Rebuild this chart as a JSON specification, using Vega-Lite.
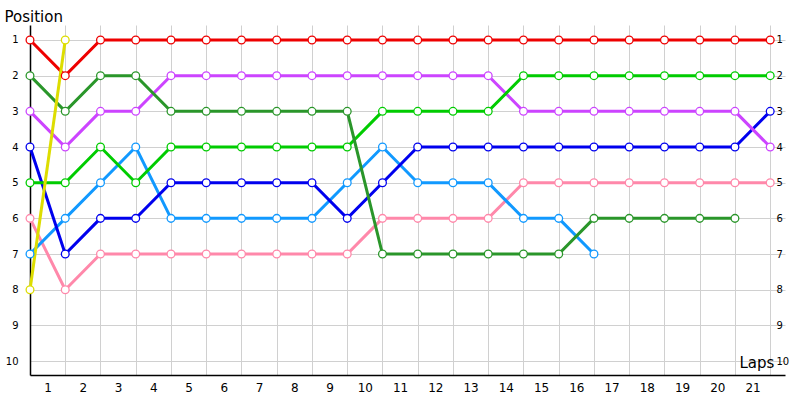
{
  "$schema": "https://vega.github.io/schema/vega-lite/v6.json",
  "width": 755,
  "height": 350,
  "autosize": {"type": "none"},
  "padding": {"left": 30, "top": 25, "right": 15, "bottom": 25},
  "background": "white",
  "config": {"view": {"stroke": null}, "font": "DejaVu Sans"},
  "data": {
    "values": [
      {"driver": "Pink", "lap": 0, "pos": 6}, {"driver": "Pink", "lap": 1, "pos": 8}, {"driver": "Pink", "lap": 2, "pos": 7},
      {"driver": "Pink", "lap": 3, "pos": 7}, {"driver": "Pink", "lap": 4, "pos": 7}, {"driver": "Pink", "lap": 5, "pos": 7},
      {"driver": "Pink", "lap": 6, "pos": 7}, {"driver": "Pink", "lap": 7, "pos": 7}, {"driver": "Pink", "lap": 8, "pos": 7},
      {"driver": "Pink", "lap": 9, "pos": 7}, {"driver": "Pink", "lap": 10, "pos": 6}, {"driver": "Pink", "lap": 11, "pos": 6},
      {"driver": "Pink", "lap": 12, "pos": 6}, {"driver": "Pink", "lap": 13, "pos": 6}, {"driver": "Pink", "lap": 14, "pos": 5},
      {"driver": "Pink", "lap": 15, "pos": 5}, {"driver": "Pink", "lap": 16, "pos": 5}, {"driver": "Pink", "lap": 17, "pos": 5},
      {"driver": "Pink", "lap": 18, "pos": 5}, {"driver": "Pink", "lap": 19, "pos": 5}, {"driver": "Pink", "lap": 20, "pos": 5},
      {"driver": "Pink", "lap": 21, "pos": 5},

      {"driver": "LightBlue", "lap": 0, "pos": 7}, {"driver": "LightBlue", "lap": 1, "pos": 6}, {"driver": "LightBlue", "lap": 2, "pos": 5},
      {"driver": "LightBlue", "lap": 3, "pos": 4}, {"driver": "LightBlue", "lap": 4, "pos": 6}, {"driver": "LightBlue", "lap": 5, "pos": 6},
      {"driver": "LightBlue", "lap": 6, "pos": 6}, {"driver": "LightBlue", "lap": 7, "pos": 6}, {"driver": "LightBlue", "lap": 8, "pos": 6},
      {"driver": "LightBlue", "lap": 9, "pos": 5}, {"driver": "LightBlue", "lap": 10, "pos": 4}, {"driver": "LightBlue", "lap": 11, "pos": 5},
      {"driver": "LightBlue", "lap": 12, "pos": 5}, {"driver": "LightBlue", "lap": 13, "pos": 5}, {"driver": "LightBlue", "lap": 14, "pos": 6},
      {"driver": "LightBlue", "lap": 15, "pos": 6}, {"driver": "LightBlue", "lap": 16, "pos": 7},

      {"driver": "Blue", "lap": 0, "pos": 4}, {"driver": "Blue", "lap": 1, "pos": 7}, {"driver": "Blue", "lap": 2, "pos": 6},
      {"driver": "Blue", "lap": 3, "pos": 6}, {"driver": "Blue", "lap": 4, "pos": 5}, {"driver": "Blue", "lap": 5, "pos": 5},
      {"driver": "Blue", "lap": 6, "pos": 5}, {"driver": "Blue", "lap": 7, "pos": 5}, {"driver": "Blue", "lap": 8, "pos": 5},
      {"driver": "Blue", "lap": 9, "pos": 6}, {"driver": "Blue", "lap": 10, "pos": 5}, {"driver": "Blue", "lap": 11, "pos": 4},
      {"driver": "Blue", "lap": 12, "pos": 4}, {"driver": "Blue", "lap": 13, "pos": 4}, {"driver": "Blue", "lap": 14, "pos": 4},
      {"driver": "Blue", "lap": 15, "pos": 4}, {"driver": "Blue", "lap": 16, "pos": 4}, {"driver": "Blue", "lap": 17, "pos": 4},
      {"driver": "Blue", "lap": 18, "pos": 4}, {"driver": "Blue", "lap": 19, "pos": 4}, {"driver": "Blue", "lap": 20, "pos": 4},
      {"driver": "Blue", "lap": 21, "pos": 3},

      {"driver": "Purple", "lap": 0, "pos": 3}, {"driver": "Purple", "lap": 1, "pos": 4}, {"driver": "Purple", "lap": 2, "pos": 3},
      {"driver": "Purple", "lap": 3, "pos": 3}, {"driver": "Purple", "lap": 4, "pos": 2}, {"driver": "Purple", "lap": 5, "pos": 2},
      {"driver": "Purple", "lap": 6, "pos": 2}, {"driver": "Purple", "lap": 7, "pos": 2}, {"driver": "Purple", "lap": 8, "pos": 2},
      {"driver": "Purple", "lap": 9, "pos": 2}, {"driver": "Purple", "lap": 10, "pos": 2}, {"driver": "Purple", "lap": 11, "pos": 2},
      {"driver": "Purple", "lap": 12, "pos": 2}, {"driver": "Purple", "lap": 13, "pos": 2}, {"driver": "Purple", "lap": 14, "pos": 3},
      {"driver": "Purple", "lap": 15, "pos": 3}, {"driver": "Purple", "lap": 16, "pos": 3}, {"driver": "Purple", "lap": 17, "pos": 3},
      {"driver": "Purple", "lap": 18, "pos": 3}, {"driver": "Purple", "lap": 19, "pos": 3}, {"driver": "Purple", "lap": 20, "pos": 3},
      {"driver": "Purple", "lap": 21, "pos": 4},

      {"driver": "LightGreen", "lap": 0, "pos": 5}, {"driver": "LightGreen", "lap": 1, "pos": 5}, {"driver": "LightGreen", "lap": 2, "pos": 4},
      {"driver": "LightGreen", "lap": 3, "pos": 5}, {"driver": "LightGreen", "lap": 4, "pos": 4}, {"driver": "LightGreen", "lap": 5, "pos": 4},
      {"driver": "LightGreen", "lap": 6, "pos": 4}, {"driver": "LightGreen", "lap": 7, "pos": 4}, {"driver": "LightGreen", "lap": 8, "pos": 4},
      {"driver": "LightGreen", "lap": 9, "pos": 4}, {"driver": "LightGreen", "lap": 10, "pos": 3}, {"driver": "LightGreen", "lap": 11, "pos": 3},
      {"driver": "LightGreen", "lap": 12, "pos": 3}, {"driver": "LightGreen", "lap": 13, "pos": 3}, {"driver": "LightGreen", "lap": 14, "pos": 2},
      {"driver": "LightGreen", "lap": 15, "pos": 2}, {"driver": "LightGreen", "lap": 16, "pos": 2}, {"driver": "LightGreen", "lap": 17, "pos": 2},
      {"driver": "LightGreen", "lap": 18, "pos": 2}, {"driver": "LightGreen", "lap": 19, "pos": 2}, {"driver": "LightGreen", "lap": 20, "pos": 2},
      {"driver": "LightGreen", "lap": 21, "pos": 2},

      {"driver": "DarkGreen", "lap": 0, "pos": 2}, {"driver": "DarkGreen", "lap": 1, "pos": 3}, {"driver": "DarkGreen", "lap": 2, "pos": 2},
      {"driver": "DarkGreen", "lap": 3, "pos": 2}, {"driver": "DarkGreen", "lap": 4, "pos": 3}, {"driver": "DarkGreen", "lap": 5, "pos": 3},
      {"driver": "DarkGreen", "lap": 6, "pos": 3}, {"driver": "DarkGreen", "lap": 7, "pos": 3}, {"driver": "DarkGreen", "lap": 8, "pos": 3},
      {"driver": "DarkGreen", "lap": 9, "pos": 3}, {"driver": "DarkGreen", "lap": 10, "pos": 7}, {"driver": "DarkGreen", "lap": 11, "pos": 7},
      {"driver": "DarkGreen", "lap": 12, "pos": 7}, {"driver": "DarkGreen", "lap": 13, "pos": 7}, {"driver": "DarkGreen", "lap": 14, "pos": 7},
      {"driver": "DarkGreen", "lap": 15, "pos": 7}, {"driver": "DarkGreen", "lap": 16, "pos": 6}, {"driver": "DarkGreen", "lap": 17, "pos": 6},
      {"driver": "DarkGreen", "lap": 18, "pos": 6}, {"driver": "DarkGreen", "lap": 19, "pos": 6}, {"driver": "DarkGreen", "lap": 20, "pos": 6},

      {"driver": "Red", "lap": 0, "pos": 1}, {"driver": "Red", "lap": 1, "pos": 2}, {"driver": "Red", "lap": 2, "pos": 1},
      {"driver": "Red", "lap": 3, "pos": 1}, {"driver": "Red", "lap": 4, "pos": 1}, {"driver": "Red", "lap": 5, "pos": 1},
      {"driver": "Red", "lap": 6, "pos": 1}, {"driver": "Red", "lap": 7, "pos": 1}, {"driver": "Red", "lap": 8, "pos": 1},
      {"driver": "Red", "lap": 9, "pos": 1}, {"driver": "Red", "lap": 10, "pos": 1}, {"driver": "Red", "lap": 11, "pos": 1},
      {"driver": "Red", "lap": 12, "pos": 1}, {"driver": "Red", "lap": 13, "pos": 1}, {"driver": "Red", "lap": 14, "pos": 1},
      {"driver": "Red", "lap": 15, "pos": 1}, {"driver": "Red", "lap": 16, "pos": 1}, {"driver": "Red", "lap": 17, "pos": 1},
      {"driver": "Red", "lap": 18, "pos": 1}, {"driver": "Red", "lap": 19, "pos": 1}, {"driver": "Red", "lap": 20, "pos": 1},
      {"driver": "Red", "lap": 21, "pos": 1},

      {"driver": "Yellow", "lap": 0, "pos": 8}, {"driver": "Yellow", "lap": 1, "pos": 1}
    ]
  },
  "encoding": {
    "x": {
      "field": "lap",
      "type": "quantitative",
      "scale": {"domain": [0, 21.42], "nice": false, "zero": false},
      "axis": {
        "values": [1, 2, 3, 4, 5, 6, 7, 8, 9, 10, 11, 12, 13, 14, 15, 16, 17, 18, 19, 20, 21],
        "grid": true,
        "gridColor": "#d0d0d0",
        "ticks": false,
        "domainColor": "black",
        "domainWidth": 1.5,
        "labelOffset": -17.6,
        "labelFlush": false,
        "labelOverlap": false,
        "labelBound": false,
        "labelFontSize": 12,
        "labelColor": "black",
        "labelPadding": 7,
        "title": "Laps",
        "titleX": 709,
        "titleY": -8,
        "titleAlign": "left",
        "titleBaseline": "alphabetic",
        "titleFontSize": 15,
        "titleFontWeight": "normal",
        "titleColor": "black"
      }
    },
    "y": {
      "field": "pos",
      "type": "quantitative",
      "scale": {"domain": [0.58, 10.39], "reverse": true, "nice": false, "zero": false}
    }
  },
  "layer": [
    {
      "mark": {"type": "line", "strokeWidth": 3},
      "encoding": {
        "color": {
          "field": "driver",
          "type": "nominal",
          "scale": {
            "domain": ["Pink", "LightBlue", "Blue", "Purple", "LightGreen", "DarkGreen", "Red", "Yellow"],
            "range": ["#ff88aa", "#1199ff", "#0000ee", "#cc44ff", "#00cc00", "#2a962a", "#ee0000", "#dddd00"]
          },
          "legend": null
        },
        "y": {
          "field": "pos",
          "type": "quantitative",
          "axis": {
            "orient": "left",
            "values": [1, 2, 3, 4, 5, 6, 7, 8, 9, 10],
            "grid": true,
            "gridColor": "#d0d0d0",
            "ticks": false,
            "domainColor": "black",
            "domainWidth": 1.5,
            "labelFontSize": 10,
            "labelColor": "black",
            "labelPadding": 12,
            "labelFlush": false,
            "title": "Position",
            "titleAngle": 0,
            "titleX": -26,
            "titleY": -4,
            "titleAlign": "left",
            "titleBaseline": "alphabetic",
            "titleFontSize": 15,
            "titleFontWeight": "normal",
            "titleColor": "black"
          }
        }
      }
    },
    {
      "mark": {"type": "point", "shape": "circle", "filled": false, "fill": "white", "fillOpacity": 1, "size": 60, "strokeWidth": 1.3, "opacity": 1},
      "encoding": {
        "stroke": {
          "field": "driver",
          "type": "nominal",
          "scale": {
            "domain": ["Pink", "LightBlue", "Blue", "Purple", "LightGreen", "DarkGreen", "Red", "Yellow"],
            "range": ["#ff88aa", "#1199ff", "#0000ee", "#cc44ff", "#00cc00", "#2a962a", "#ee0000", "#dddd00"]
          },
          "legend": null
        },
        "y": {
          "field": "pos",
          "type": "quantitative",
          "axis": {
            "orient": "right",
            "values": [1, 2, 3, 4, 5, 6, 7, 8, 9, 10],
            "grid": false,
            "ticks": false,
            "domain": false,
            "offset": -10,
            "labelFontSize": 10,
            "labelColor": "black",
            "labelPadding": 1,
            "labelFlush": false,
            "title": null
          }
        }
      }
    }
  ],
  "resolve": {"axis": {"y": "independent"}}
}
